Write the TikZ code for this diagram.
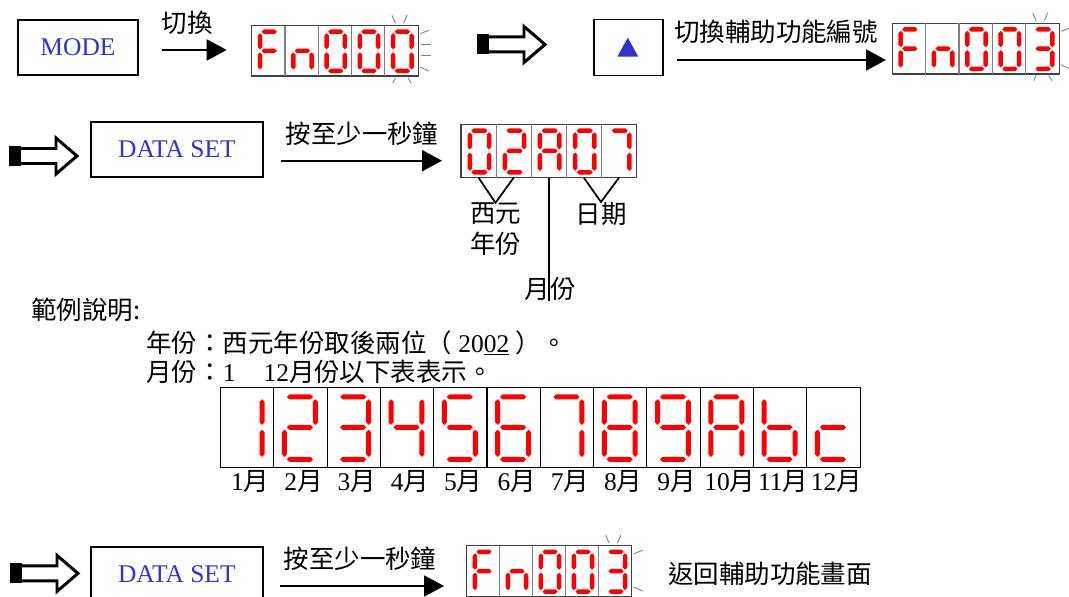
\documentclass[tikz,border=0pt]{standalone}
\usepackage{fontspec}
\setmainfont{Liberation Serif}
\newfontfamily\cjk{Noto Sans CJK TC}
\usetikzlibrary{arrows.meta}

\definecolor{keyblue}{RGB}{51,51,204}
\definecolor{segred}{RGB}{255,0,0}

% segments lit for each character
\newcommand{\defdigit}[2]{\expandafter\def\csname dg#1\endcsname{#2}}
\defdigit{0}{a,b,c,d,e,f}
\defdigit{1}{b,c}
\defdigit{2}{a,b,g,e,d}
\defdigit{3}{a,b,g,c,d}
\defdigit{4}{f,g,b,c}
\defdigit{5}{a,f,g,c,d}
\defdigit{6}{a,f,g,e,c,d}
\defdigit{7}{a,b,c}
\defdigit{8}{a,b,c,d,e,f,g}
\defdigit{9}{a,b,c,d,f,g}
\defdigit{A}{a,b,c,e,f,g}
\defdigit{F}{a,e,f,g}
\defdigit{b}{c,d,e,f,g}
\defdigit{c}{d,e,g}
\defdigit{n}{c,e,g}

% one pointed segment, horizontal or vertical
\newcommand{\hseg}[3]{\fill[seg] ({#1-\segW},#3) -- (#1,{#3-\segW}) -- (#2,{#3-\segW})
  -- ({#2+\segW},#3) -- (#2,{#3+\segW}) -- (#1,{#3+\segW}) -- cycle;}
\newcommand{\vseg}[3]{\fill[seg] (#1,{#2-\segW}) -- ({#1+\segW},#2) -- ({#1+\segW},#3)
  -- (#1,{#3+\segW}) -- ({#1-\segW},#3) -- ({#1-\segW},#2) -- cycle;}

\newcommand{\sega}{\hseg{\segL+\segG}{\segR-\segG}{\segT}}
\newcommand{\segb}{\vseg{\segR}{\segT+\segG}{\segM-\segG}}
\newcommand{\segc}{\vseg{\segR}{\segM+\segG}{\segB-\segG}}
\newcommand{\segd}{\hseg{\segL+\segG}{\segR-\segG}{\segB}}
\newcommand{\sege}{\vseg{\segL}{\segM+\segG}{\segB-\segG}}
\newcommand{\segf}{\vseg{\segL}{\segT+\segG}{\segM-\segG}}
\newcommand{\segg}{\hseg{\segL+\segG}{\segR-\segG}{\segM}}

\def\segxl{0.25}
\def\segxr{0.8}
\def\segW{2.25}

% name, left, top, cell width, cell height, cells, characters
\newcommand{\display}[7]{%
  \node[dispbox, anchor=north west, minimum width={#6*#4*0.02cm},
    minimum height={#5*0.02cm}] (#1) at (#2,#3) {};
  \foreach \dchar [count=\i from 1] in {#7}{
    \pgfmathsetmacro\cx{#2+(\i-1)*#4}
    \coordinate (#1-\i) at ({\cx+0.5*#4},{#3+#5});
    \ifnum\i>1 \draw[divider] (\cx,#3) -- (\cx,{#3+#5}); \fi
    \pgfmathsetmacro\segL{\cx+\segxl*#4}
    \pgfmathsetmacro\segR{\cx+\segxr*#4}
    \pgfmathsetmacro\segT{#3+0.12*#5}
    \pgfmathsetmacro\segM{#3+0.5*#5}
    \pgfmathsetmacro\segB{#3+0.9*#5}
    \pgfmathsetmacro\segG{\segW+0.045*#4}
    \edef\segs{\csname dg\dchar\endcsname}
    \foreach \s in \segs {\csname seg\s\endcsname}
  }
}

% blinking marks round the last cell (its top left corner)
\newcommand{\glints}[2]{%
  \begin{scope}[shift={(#1,#2)}]
    \draw[glint] (7,-10.5) -- (10.5,-2.5);
    \draw[glint] (22,-10.5) -- (18.8,-2.5);
    \draw[glint] (35.5,8) -- (44,4.5);
    \draw[glint] (35.5,41.5) -- (44,45.5);
    \draw[glint] (10.5,52) -- (8,57.5);
    \draw[glint] (23,52) -- (26.3,57.5);
  \end{scope}}

% hollow block arrow, tail at (x,y)
\newcommand{\hollowarrow}[2]{%
  \fill (#1,#2-10) rectangle (#1+12,#2+10);
  \draw[line width=1.7pt, line join=miter] (#1+11,#2-7.5) -- (#1+47,#2-7.5)
    -- (#1+47,#2-18) -- (#1+68,#2) -- (#1+47,#2+18) -- (#1+47,#2+7.5)
    -- (#1+11,#2+7.5);}

\begin{document}
\begin{tikzpicture}[x=0.02cm, y=-0.02cm,
  every node/.style={font=\fontsize{14.5}{18}\selectfont},
  keybox/.style={draw, line width=1.1pt, text=keyblue, inner sep=0pt},
  lbl/.style={font=\cjk\fontsize{14.5}{18}\selectfont, inner sep=0pt},
  mlbl/.style={font=\fontsize{14.5}{17}\selectfont, inner sep=0pt},
  dispbox/.style={draw=black!75, line width=0.6pt, inner sep=0pt, outer sep=0pt},
  divider/.style={draw=black!50, line width=0.6pt},
  seg/.style={fill=segred},
  glint/.style={draw=black!50, line width=0.5pt},
  bigarr/.style={line width=1.1pt, -{Triangle[length=0.4cm,width=0.42cm]}},
  pointer/.style={line width=1pt}]
\useasboundingbox (0,0) rectangle (1069,597);

% row 1
\node[keybox, minimum width=2.4cm, minimum height=1.1cm] (mode) at (78,47.5) {MODE};
\node[lbl] (l1) at (187,22.5) {切換};
\display{fn1}{251.7}{25.7}{33.3}{50.3}{5}{F,n,0,0,0}
\glints{384.9}{25.7}
\draw[glint] (420.5,44.3) -- (430.5,44.3);
\draw[glint] (420.5,55.7) -- (430.5,55.7);
\coordinate (a1) at (161.5,50);
\draw[bigarr, shorten >=0.5cm] (a1) -- (a1 -| fn1.west);

\hollowarrow{477}{44.5}
\node[keybox, minimum width=1.37cm, minimum height=1.12cm] (up) at (628.5,47.5) {};
\fill[keyblue] (617.3,56.7) -- (638.3,56.7) -- (627.8,37.7) -- cycle;
\node[lbl] (l2) at (776,31.7) {切換輔助功能編號};
\display{fn2}{892.3}{23.3}{33.35}{50.7}{5}{F,n,0,0,3}
\glints{1025.7}{23.3}
\coordinate (a2) at (677.3,60);
\draw[bigarr, shorten >=0.126cm] (a2) -- (a2 -| fn2.west);

% row 2
\hollowarrow{9}{156}
\node[keybox, minimum width=3.44cm, minimum height=1.11cm] (set1) at (177,149.5) {DATA SET};
\node[lbl] (l3) at (362,134) {按至少一秒鐘};
\display{dt}{461}{124.3}{35.1}{53.4}{5}{0,2,A,0,7}
\coordinate (a3) at (281.3,160.7);
\draw[bigarr, shorten >=0.38cm] (a3) -- (a3 -| dt.west);

\node[lbl] (yr1) at (495.5,214) {西元};
\node[lbl] (yr2) at (495.5,244) {年份};
\node[lbl] (day) at (601,214) {日期};
\node[lbl] (mon) at (550,289) {月份};
\draw[pointer] (dt-1) -- (yr1.north) -- (dt-2);
\draw[pointer] (dt-4) -- (day.north) -- (dt-5);
\draw[pointer] (dt-3) -- (dt-3 |- mon.south);

% notes
\node[lbl, anchor=west] (ex) at (31,310) {範例說明:};
\node[inner sep=0pt, anchor=west] (note1) at (146,343)
  {{\cjk 年份：西元年份取後兩位（}\hspace{0.25em}20\underline{02}\hspace{0.25em}{\cjk ）。}};
\node[inner sep=0pt, anchor=west] (note2) at (146,372)
  {{\cjk 月份：}1\hspace{1.1em}12{\cjk 月份以下表表示。}};

% month table
\begin{scope}[dispbox/.append style={draw=black}, divider/.append style={draw=black}]
\def\segxl{0.2}
\def\segxr{0.78}
\def\segW{2.5}
\display{tb}{220.5}{387.3}{53.3}{80}{12}{1,2,3,4,5,6,7,8,9,A,b,c}
\end{scope}
\foreach \m in {1,...,12}
  \node[mlbl] (m\m) at ({220.5+(\m-0.5)*53.3+3},482) {\m{\cjk 月}};

% row 3
\hollowarrow{10}{573.4}
\node[keybox, minimum width=3.43cm, minimum height=1.11cm] (set2) at (176.8,574.5) {DATA SET};
\node[lbl] (l4) at (360,559) {按至少一秒鐘};
\display{fn3}{466.7}{545.7}{33}{51}{5}{F,n,0,0,3}
\glints{598.7}{545.7}
\coordinate (a4) at (280,586);
\draw[bigarr, shorten >=0.454cm] (a4) -- (a4 -| fn3.west);
\node[lbl] (back) at (770,574) {返回輔助功能畫面};
\end{tikzpicture}
\end{document}
